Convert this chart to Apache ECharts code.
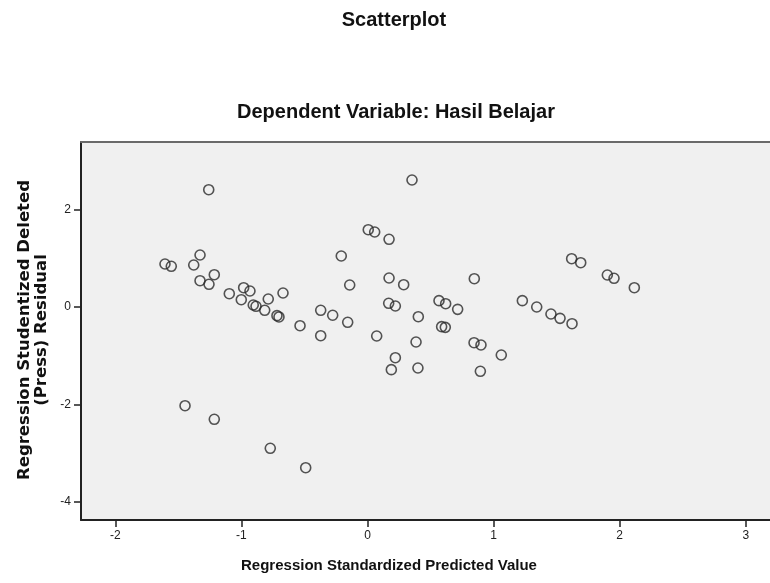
<!DOCTYPE html>
<html>
<head>
<meta charset="utf-8">
<script src="https://cdn.jsdelivr.net/npm/echarts@6/dist/echarts.min.js"></script>
<style>
html,body{margin:0;padding:0;background:#fff;overflow:hidden;}
#chart{width:770px;height:583px;}
</style>
</head>
<body>
<div id="chart"></div>
<script>
// Regression Standardized Predicted Value
var predicted = [
  -1.606, -1.556, -1.259, -1.328, -1.378, -1.215, -1.328, -1.257, -1.096, -0.982,
  -0.932, -1.001, -0.906, -0.884, -0.787, -0.815, -0.670, -0.718, -0.702, -0.535,
   0.353,  0.006,  0.057,  0.171, -0.208, -0.141,  0.171,  0.287,  0.847,  0.168,
   0.221, -0.371, -0.276, -0.157,  0.403,  0.567,  0.620,  0.715,  0.588,  0.617,
   1.228,  1.342,  1.455,  1.527,  1.622,  1.619,  1.691,  1.902,  1.955,  2.116,
  -1.447, -1.215, -0.771, -0.490, -0.371,  0.073,  0.385,  0.221,  0.189,  0.400,
   0.845,  0.900,  1.061,  0.895
];
// Regression Studentized Deleted (Press) Residual
var residual = [
   0.881,  0.834,  2.407,  1.066,  0.860,  0.661,  0.538,  0.464,  0.271,  0.394,
   0.326,  0.148,  0.039,  0.012,  0.162, -0.070,  0.285, -0.180, -0.207, -0.386,
   2.606,  1.585,  1.538,  1.388,  1.045,  0.450,  0.593,  0.456,  0.579,  0.074,
   0.018, -0.070, -0.172, -0.316, -0.201,  0.128,  0.066, -0.050, -0.406, -0.420,
   0.128, -0.002, -0.146, -0.235, -0.345,  0.990,  0.908,  0.655,  0.587,  0.394,
  -2.029, -2.308, -2.904, -3.302, -0.591, -0.598, -0.721, -1.043, -1.289, -1.255,
  -0.735, -0.782, -0.988, -1.323
];
var xTicks = [-2, -1, 0, 1, 2, 3];
var yTicks = [-4, -2, 0, 2];

var titleText = 'Scatterplot';
var subtitleText = 'Dependent Variable: Hasil Belajar';
var xName = 'Regression Standardized Predicted Value';
var yName = 'Regression Studentized Deleted\n(Press) Residual';

var points = predicted.map(function (v, i) { return [v, residual[i]]; });

var chart = echarts.init(document.getElementById('chart'), null, {renderer: 'canvas'});
var fontFam = 'Arial, "Liberation Sans", sans-serif';
chart.setOption({
  backgroundColor: '#ffffff',
  animation: false,
  title: [
    {text: titleText, left: 389, top: 5, textAlign: 'center',
     textStyle: {fontFamily: fontFam, fontSize: 20, fontWeight: 'bold', color: '#111'}},
    {text: subtitleText, left: 391, top: 97, textAlign: 'center',
     textStyle: {fontFamily: fontFam, fontSize: 20, fontWeight: 'bold', color: '#111'}}
  ],
  grid: {left: 81, top: 142, right: 0, bottom: 63, show: true,
         backgroundColor: '#f0f0f0', borderWidth: 0},
  xAxis: [{
    type: 'value', min: -2.272, max: 3.192,
    splitLine: {show: false},
    axisLine: {show: true, onZero: false, lineStyle: {color: '#222', width: 2}},
    axisTick: {show: true, length: 7, inside: false, customValues: xTicks, lineStyle: {color: '#222', width: 1.5}},
    axisLabel: {customValues: xTicks, margin: 10, fontFamily: fontFam, fontSize: 12, color: '#222'}
  }, {
    type: 'value', position: 'top', min: -2.272, max: 3.192,
    splitLine: {show: false},
    axisLine: {show: true, onZero: false, lineStyle: {color: '#6a6a6a', width: 2}},
    axisTick: {show: false},
    axisLabel: {show: false}
  }],
  yAxis: {
    type: 'value', min: -4.376, max: 3.386,
    splitLine: {show: false},
    axisLine: {show: true, onZero: false, lineStyle: {color: '#222', width: 2}},
    axisTick: {show: true, length: 7, inside: false, customValues: yTicks, lineStyle: {color: '#222', width: 1.5}},
    axisLabel: {customValues: yTicks, margin: 10, fontFamily: fontFam, fontSize: 12, color: '#222'}
  },
  graphic: [
    {type: 'text', x: 389, y: 566, style: {text: xName, textAlign: 'center', textVerticalAlign: 'middle',
      fontFamily: fontFam, fontSize: 15, fontWeight: 'bold', fill: '#111'}},
    {type: 'text', x: 33, y: 330, rotation: Math.PI / 2,
      style: {text: yName, textAlign: 'center', textVerticalAlign: 'middle', lineHeight: 17,
      fontFamily: '"DejaVu Sans", Verdana, sans-serif', fontSize: 16.5, fontWeight: 'bold', fill: '#111'}}
  ],
  series: [{
    type: 'scatter',
    xAxisIndex: 0,
    data: points,
    symbol: 'circle',
    symbolSize: 10,
    itemStyle: {color: 'rgba(0,0,0,0)', borderColor: '#2b2b2b', borderWidth: 1.6},
    emphasis: {disabled: true},
    silent: true
  }]
});
</script>
</body>
</html>
